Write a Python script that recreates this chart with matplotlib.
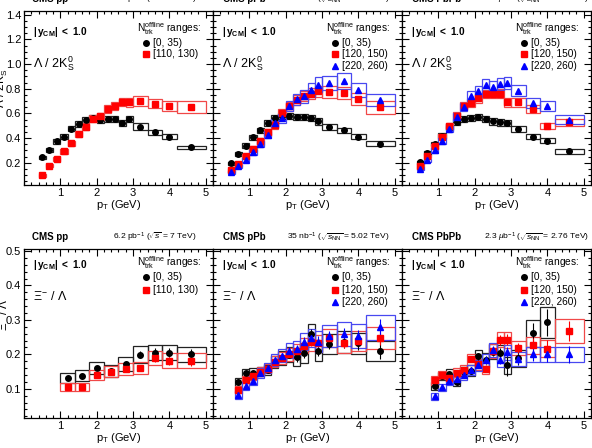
import numpy as np
import matplotlib
matplotlib.use("Agg")
import matplotlib.pyplot as plt
from matplotlib.ticker import MultipleLocator

plt.rcParams['font.family'] = ['Liberation Sans', 'DejaVu Sans']
plt.rcParams['mathtext.fontset'] = 'custom'
plt.rcParams['mathtext.rm'] = 'Liberation Sans'
plt.rcParams['mathtext.it'] = 'Liberation Sans:italic'
plt.rcParams['mathtext.bf'] = 'Liberation Sans:bold'

# ---------------- data: Lambda / 2K0S ----------------
lk_edges = [0.4, 0.6, 0.8, 1.0, 1.2, 1.4, 1.6, 1.8, 2.0, 2.2, 2.4, 2.6, 2.8, 3.0, 3.4, 3.8, 4.2, 5.0]

pp_lk_low = [0.246, 0.305, 0.373, 0.413, 0.476, 0.514, 0.549, 0.562, 0.549, 0.554, 0.554, 0.522, 0.554, 0.494, 0.446, 0.413, 0.324]
pp_lk_low_sys = [0.012, 0.015, 0.018, 0.02, 0.022, 0.024, 0.025, 0.025, 0.025, 0.025, 0.025, 0.025, 0.025, 0.027, 0.022, 0.02, 0.016]
pp_lk_high = [0.097, 0.176, 0.232, 0.292, 0.36, 0.435, 0.494, 0.557, 0.576, 0.635, 0.657, 0.692, 0.689, 0.70, 0.678, 0.662, 0.652]
pp_lk_high_sys = [0.01, 0.012, 0.015, 0.017, 0.02, 0.022, 0.025, 0.028, 0.03, 0.032, 0.033, 0.035, 0.035, 0.04, 0.038, 0.04, 0.05]

ppb_lk_low = [0.197, 0.27, 0.34, 0.408, 0.462, 0.522, 0.562, 0.581, 0.581, 0.57, 0.57, 0.562, 0.535, 0.489, 0.462, 0.413, 0.354]
ppb_lk_low_sys = [0.012, 0.015, 0.018, 0.02, 0.022, 0.024, 0.025, 0.025, 0.025, 0.025, 0.025, 0.025, 0.025, 0.025, 0.022, 0.02, 0.02]
ppb_lk_mid = [0.138, 0.189, 0.251, 0.314, 0.373, 0.446, 0.508, 0.603, 0.657, 0.711, 0.743, 0.76, 0.778, 0.773, 0.765, 0.719, 0.649]
ppb_lk_mid_sys = [0.012, 0.015, 0.018, 0.022, 0.025, 0.03, 0.032, 0.035, 0.038, 0.04, 0.042, 0.045, 0.045, 0.05, 0.05, 0.05, 0.05]
ppb_lk_high = [0.122, 0.17, 0.224, 0.284, 0.352, 0.427, 0.522, 0.562, 0.662, 0.716, 0.738, 0.792, 0.833, 0.846, 0.859, 0.792, 0.711]
ppb_lk_high_sys = [0.012, 0.015, 0.018, 0.022, 0.025, 0.03, 0.033, 0.036, 0.04, 0.045, 0.05, 0.055, 0.06, 0.06, 0.065, 0.055, 0.05]

pbpb_lk_low = [0.206, 0.279, 0.354, 0.419, 0.489, 0.527, 0.554, 0.565, 0.57, 0.554, 0.535, 0.527, 0.522, 0.473, 0.413, 0.378, 0.292]
pbpb_lk_low_sys = [0.012, 0.015, 0.018, 0.02, 0.022, 0.024, 0.025, 0.025, 0.025, 0.025, 0.025, 0.025, 0.025, 0.025, 0.022, 0.02, 0.018]
pbpb_lk_mid = [0.178, 0.251, 0.332, 0.413, 0.50, 0.581, 0.657, 0.684, 0.724, 0.757, 0.757, 0.76, 0.689, 0.689, 0.635, 0.50, 0.527]
pbpb_lk_mid_sys = [0.012, 0.015, 0.018, 0.022, 0.025, 0.03, 0.033, 0.035, 0.036, 0.036, 0.036, 0.036, 0.036, 0.033, 0.035, 0.025, 0.03]
pbpb_lk_high = [0.151, 0.219, 0.30, 0.378, 0.473, 0.57, 0.652, 0.743, 0.778, 0.833, 0.814, 0.838, 0.846, 0.784, 0.684, 0.657, 0.549]
pbpb_lk_high_sys = [0.012, 0.015, 0.018, 0.022, 0.025, 0.03, 0.035, 0.04, 0.045, 0.05, 0.05, 0.05, 0.05, 0.045, 0.04, 0.04, 0.035]

# ---------------- data: Xi / Lambda ----------------
pp_xi_edges = [1.0, 1.4, 1.8, 2.2, 2.6, 3.0, 3.4, 3.8, 4.2, 5.0]
pp_xi_low = [0.131, 0.138, 0.16, 0.152, 0.171, 0.199, 0.205, 0.205, 0.20]
pp_xi_low_stat = [0.004, 0.004, 0.005, 0.005, 0.007, 0.01, 0.012, 0.013, 0.015]
pp_xi_low_sys = [0.015, 0.016, 0.017, 0.018, 0.02, 0.024, 0.022, 0.022, 0.022]
pp_xi_high = [0.104, 0.106, 0.14, 0.15, 0.157, 0.16, 0.189, 0.181, 0.181]
pp_xi_high_stat = [0.004, 0.004, 0.005, 0.006, 0.007, 0.009, 0.01, 0.012, 0.015]
pp_xi_high_sys = [0.012, 0.012, 0.014, 0.016, 0.017, 0.018, 0.02, 0.022, 0.022]

ppb_xi_edges = [0.6, 0.8, 1.0, 1.2, 1.4, 1.6, 1.8, 2.0, 2.2, 2.4, 2.6, 2.8, 3.0, 3.4, 3.8, 4.2, 5.0]
ppb_xi_low = [0.119, 0.145, 0.147, 0.15, 0.155, 0.177, 0.189, 0.199, 0.191, 0.203, 0.259, 0.21, 0.23, 0.235, 0.232, 0.21]
ppb_xi_low_stat = [0.006, 0.005, 0.005, 0.005, 0.006, 0.007, 0.008, 0.01, 0.012, 0.013, 0.015, 0.015, 0.015, 0.018, 0.02, 0.025]
ppb_xi_low_sys = [0.012, 0.012, 0.012, 0.013, 0.015, 0.017, 0.02, 0.022, 0.025, 0.028, 0.03, 0.03, 0.03, 0.032, 0.03, 0.03]
ppb_xi_mid = [0.097, 0.126, 0.136, 0.15, 0.158, 0.179, 0.189, 0.20, 0.21, 0.225, 0.235, 0.232, 0.247, 0.232, 0.239, 0.247]
ppb_xi_mid_stat = [0.004, 0.004, 0.004, 0.004, 0.005, 0.006, 0.007, 0.008, 0.009, 0.01, 0.012, 0.012, 0.013, 0.015, 0.016, 0.02]
ppb_xi_mid_sys = [0.01, 0.01, 0.011, 0.012, 0.013, 0.015, 0.017, 0.019, 0.02, 0.022, 0.024, 0.025, 0.026, 0.028, 0.03, 0.032]
ppb_xi_high = [0.081, 0.107, 0.123, 0.145, 0.16, 0.184, 0.196, 0.211, 0.216, 0.237, 0.247, 0.237, 0.252, 0.259, 0.252, 0.278]
ppb_xi_high_stat = [0.005, 0.005, 0.005, 0.005, 0.006, 0.007, 0.008, 0.009, 0.01, 0.012, 0.013, 0.015, 0.015, 0.018, 0.02, 0.025]
ppb_xi_high_sys = [0.012, 0.012, 0.013, 0.014, 0.015, 0.017, 0.019, 0.021, 0.023, 0.025, 0.027, 0.03, 0.032, 0.036, 0.035, 0.037]

pbpb_xi_edges = [0.8, 1.0, 1.2, 1.4, 1.6, 1.8, 2.0, 2.2, 2.4, 2.6, 2.8, 3.0, 3.4, 3.8, 4.2, 5.0]
pbpb_xi_low = [0.109, 0.136, 0.143, 0.121, 0.15, 0.153, 0.194, 0.184, 0.208, 0.203, 0.168, 0.189, 0.261, 0.293]
pbpb_xi_low_stat = [0.006, 0.006, 0.007, 0.007, 0.008, 0.009, 0.01, 0.012, 0.014, 0.016, 0.03, 0.02, 0.03, 0.04]
pbpb_xi_low_sys = [0.012, 0.012, 0.013, 0.013, 0.014, 0.016, 0.018, 0.02, 0.022, 0.024, 0.025, 0.025, 0.04, 0.045]
pbpb_xi_mid = [0.124, 0.139, 0.131, 0.147, 0.155, 0.186, 0.171, 0.158, 0.21, 0.242, 0.242, 0.218, 0.226, 0.216, 0.268]
pbpb_xi_mid_stat = [0.005, 0.005, 0.005, 0.006, 0.007, 0.008, 0.009, 0.01, 0.012, 0.014, 0.016, 0.015, 0.02, 0.025, 0.03]
pbpb_xi_mid_sys = [0.012, 0.012, 0.012, 0.013, 0.014, 0.016, 0.016, 0.016, 0.02, 0.022, 0.024, 0.02, 0.025, 0.025, 0.035]
pbpb_xi_high = [0.078, 0.104, 0.123, 0.129, 0.139, 0.155, 0.168, 0.184, 0.213, 0.184, 0.206, 0.187, 0.20, 0.20, 0.20]
pbpb_xi_high_stat = [0.004, 0.005, 0.005, 0.006, 0.007, 0.008, 0.009, 0.01, 0.012, 0.012, 0.014, 0.015, 0.02, 0.022, 0.025]
pbpb_xi_high_sys = [0.01, 0.011, 0.012, 0.013, 0.014, 0.015, 0.016, 0.018, 0.02, 0.02, 0.022, 0.02, 0.022, 0.022, 0.022]

headers = [("CMS pp", r"6.2 pb$^{-1}$ ($\sqrt{s}$ = 7 TeV)"),
           ("CMS pPb", r"35 nb$^{-1}$ ($\sqrt{s_{\rm NN}}$ = 5.02 TeV)"),
           ("CMS PbPb", r"2.3 $\mu$b$^{-1}$ ($\sqrt{s_{\rm NN}}$ = 2.76 TeV)")]
pp_labels = ["[0, 35)", "[110, 130)"]
ab_labels = ["[0, 35)", "[120, 150)", "[220, 260)"]

BLACK = "black"
RED = "#ff0000"
BLUE = "#0000ff"
BOXC = {BLACK: "#222222", RED: "#f04848", BLUE: "#4848f0"}
MARK = {BLACK: "o", RED: "s", BLUE: "^"}

W, H = 592, 448
fig = plt.figure(figsize=(W / 100, H / 100), dpi=100)

col_left = [24, 213, 402]
col_w = 189
rows = [(11, 185), (249, 418)]   # top, bottom pixel rows


def make_ax(col, row):
    top, bot = rows[row]
    ax = fig.add_axes([col_left[col] / W, 1 - bot / H, col_w / W, (bot - top) / H])
    ax.set_xlim(0, 5.2)
    ax.xaxis.set_major_locator(MultipleLocator(1))
    ax.xaxis.set_minor_locator(MultipleLocator(0.2))
    if row == 0:
        ax.set_ylim(0.02, 1.43)
        ax.yaxis.set_major_locator(MultipleLocator(0.2))
        ax.yaxis.set_minor_locator(MultipleLocator(0.05))
    else:
        ax.set_ylim(0.015, 0.506)
        ax.yaxis.set_major_locator(MultipleLocator(0.1))
        ax.yaxis.set_minor_locator(MultipleLocator(0.02))
    ax.tick_params(which='both', direction='in', top=True, right=True, labelsize=8, pad=2)
    ax.tick_params(which='major', length=5, width=0.8)
    ax.tick_params(which='minor', length=2.5, width=0.8)
    ax.set_xticks([1, 2, 3, 4, 5])
    ax.set_xticklabels(["1", "2", "3", "4", "5"])
    if col > 0:
        ax.set_yticklabels([])
    for s in ax.spines.values():
        s.set_linewidth(0.9)
    ax.set_xlabel(r"p$_{\rm T}$ (GeV)", fontsize=8, labelpad=0)
    return ax


def draw(ax, edges, y, sys, color, stat=None):
    edges = np.array(edges)
    y = np.array(y)
    n = len(y)
    xc = 0.5 * (edges[:-1] + edges[1:])[:n]
    wd = np.diff(edges)[:n]
    sys = np.array(sys)
    ax.bar(xc, 2 * sys, bottom=y - sys, width=wd, fill=False,
           edgecolor=BOXC[color], linewidth=0.9, zorder=2)
    if stat is not None:
        ax.errorbar(xc, y, yerr=stat, fmt='none', ecolor=color, elinewidth=0.8, zorder=3)
    ms = 4 if color != BLUE else 4.4
    ax.plot(xc, y, linestyle='none', marker=MARK[color], color=color, ms=ms, zorder=4)


def annotate(ax, row, labels, colors, ratio_text):
    yy = [0.88, 0.905][row]
    ax.text(0.045, yy, r"$\mathbf{|\,y_{CM}|\ <\ 1.0}$", transform=ax.transAxes,
            fontsize=7.3, va='center')
    ax.text(0.045, [0.70, 0.716][row], ratio_text, transform=ax.transAxes,
            fontsize=9, va='center')
    ty = [0.90, 0.917][row]
    ax.text(0.60, ty, r"N$_{\rm trk}^{\rm offline}$ ranges:", transform=ax.transAxes,
            fontsize=7.3, va='center')
    step = [0.066, 0.075][row]
    for i, (lab, c) in enumerate(zip(labels, colors)):
        yl = ty - 0.083 - i * step
        ax.plot([0.645], [yl], transform=ax.transAxes, marker=MARK[c], color=c,
                ms=4, linestyle='none', clip_on=False)
        ax.text(0.68, yl, lab, transform=ax.transAxes, fontsize=7.3, va='center')


def header(col, row):
    top = rows[row][0]
    yh = 1 - (top - 12) / H
    left_px = [32, 223, 412][col]
    right_px = [197, 390, 589][col]
    fig.text(left_px / W, yh, headers[col][0], fontsize=7, fontweight='bold', va='center')
    fig.text(right_px / W, yh, headers[col][1], fontsize=6.1, va='center', ha='right')


lk_text = r"$\Lambda$ / 2K$_{\rm S}^{0}$"
xi_text = r"$\Xi^{-}$ / $\Lambda$"

# top row
ax = make_ax(0, 0)
draw(ax, lk_edges, pp_lk_low, pp_lk_low_sys, BLACK)
draw(ax, lk_edges, pp_lk_high, pp_lk_high_sys, RED)
annotate(ax, 0, pp_labels, [BLACK, RED], lk_text)

ax = make_ax(1, 0)
draw(ax, lk_edges, ppb_lk_low, ppb_lk_low_sys, BLACK)
draw(ax, lk_edges, ppb_lk_mid, ppb_lk_mid_sys, RED)
draw(ax, lk_edges, ppb_lk_high, ppb_lk_high_sys, BLUE)
annotate(ax, 0, ab_labels, [BLACK, RED, BLUE], lk_text)

ax = make_ax(2, 0)
draw(ax, lk_edges, pbpb_lk_low, pbpb_lk_low_sys, BLACK)
draw(ax, lk_edges, pbpb_lk_mid, pbpb_lk_mid_sys, RED)
draw(ax, lk_edges, pbpb_lk_high, pbpb_lk_high_sys, BLUE)
annotate(ax, 0, ab_labels, [BLACK, RED, BLUE], lk_text)

# bottom row
ax = make_ax(0, 1)
draw(ax, pp_xi_edges, pp_xi_low, pp_xi_low_sys, BLACK, pp_xi_low_stat)
draw(ax, pp_xi_edges, pp_xi_high, pp_xi_high_sys, RED, pp_xi_high_stat)
annotate(ax, 1, pp_labels, [BLACK, RED], xi_text)

ax = make_ax(1, 1)
draw(ax, ppb_xi_edges, ppb_xi_low, ppb_xi_low_sys, BLACK, ppb_xi_low_stat)
draw(ax, ppb_xi_edges, ppb_xi_mid, ppb_xi_mid_sys, RED, ppb_xi_mid_stat)
draw(ax, ppb_xi_edges, ppb_xi_high, ppb_xi_high_sys, BLUE, ppb_xi_high_stat)
annotate(ax, 1, ab_labels, [BLACK, RED, BLUE], xi_text)

ax = make_ax(2, 1)
draw(ax, pbpb_xi_edges, pbpb_xi_low, pbpb_xi_low_sys, BLACK, pbpb_xi_low_stat)
draw(ax, pbpb_xi_edges, pbpb_xi_mid, pbpb_xi_mid_sys, RED, pbpb_xi_mid_stat)
draw(ax, pbpb_xi_edges, pbpb_xi_high, pbpb_xi_high_sys, BLUE, pbpb_xi_high_stat)
annotate(ax, 1, ab_labels, [BLACK, RED, BLUE], xi_text)

for c in range(3):
    for r in range(2):
        header(c, r)

# y-axis titles (partly cut at the left edge, like the original)
fig.text(10 / W, 1 - 88 / H, lk_text, rotation=90, fontsize=8.5, va='center', ha='right')
fig.text(10 / W, 1 - 315 / H, xi_text, rotation=90, fontsize=8.5, va='center', ha='right')

fig.savefig("out.png", dpi=100)
